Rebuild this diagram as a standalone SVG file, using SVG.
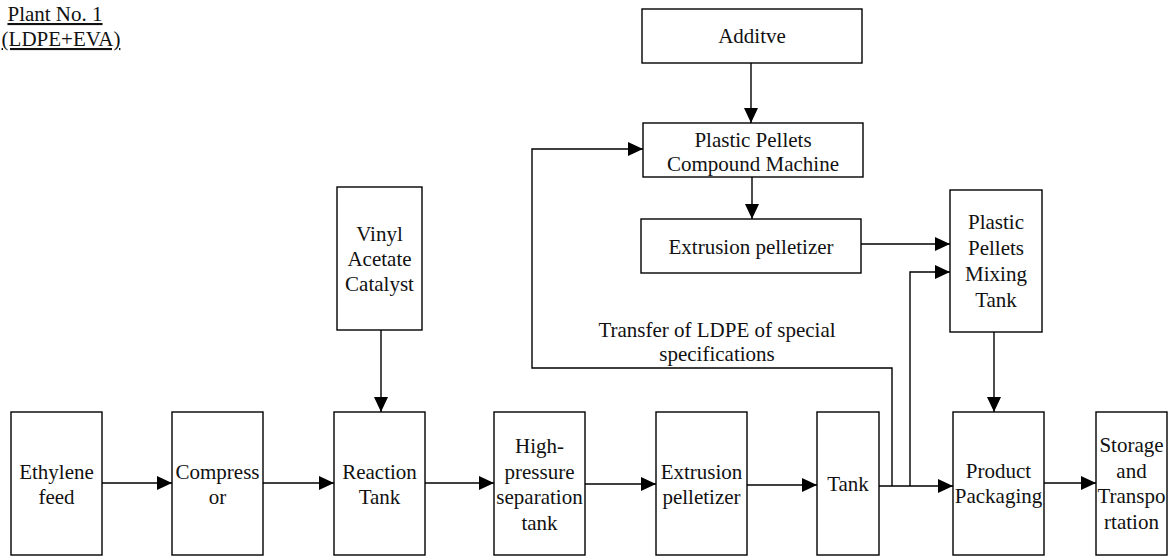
<svg xmlns="http://www.w3.org/2000/svg" width="1173" height="556" viewBox="0 0 1173 556">
<style>
.box{fill:#fff;stroke:#000;stroke-width:1.4}
.t{font-family:'Liberation Serif',Tinos,'Times New Roman','DejaVu Serif',serif;font-size:21px;fill:#111;text-anchor:middle}
.u{text-decoration:underline}
.c{fill:none;stroke:#000;stroke-width:1.4}
</style>
<defs>
<marker id="ah" markerUnits="userSpaceOnUse" markerWidth="15" markerHeight="14" refX="15" refY="7" orient="auto">
<path d="M0,0 L15,7 L0,14 Z" fill="#000"/>
</marker>
</defs>
<rect width="1173" height="556" fill="#fff"/>
<g id="title" font-family="Liberation Serif, Times New Roman, serif">
<text class="t u" x="55" y="21">Plant No. 1</text>
<text class="t u" x="61" y="46">(LDPE+EVA)</text>
</g>
<g id="connectors">
<line class="c" x1="102" y1="483" x2="172" y2="483" marker-end="url(#ah)"/>
<line class="c" x1="263" y1="483" x2="334" y2="483" marker-end="url(#ah)"/>
<line class="c" x1="425" y1="483" x2="494" y2="483" marker-end="url(#ah)"/>
<line class="c" x1="585" y1="484" x2="656" y2="484" marker-end="url(#ah)"/>
<line class="c" x1="747" y1="485" x2="817" y2="485" marker-end="url(#ah)"/>
<line class="c" x1="879" y1="486" x2="953" y2="486" marker-end="url(#ah)"/>
<line class="c" x1="1044" y1="483" x2="1096" y2="483" marker-end="url(#ah)"/>
<line class="c" x1="381" y1="330" x2="381" y2="412" marker-end="url(#ah)"/>
<line class="c" x1="751" y1="63" x2="751" y2="123" marker-end="url(#ah)"/>
<line class="c" x1="752" y1="177" x2="752" y2="219" marker-end="url(#ah)"/>
<line class="c" x1="861" y1="244" x2="950" y2="244" marker-end="url(#ah)"/>
<polyline class="c" points="892,486 892,368 532,368 532,149 643,149" marker-end="url(#ah)"/>
<polyline class="c" points="910,486 910,272 950,272" marker-end="url(#ah)"/>
<line class="c" x1="994" y1="332" x2="994" y2="412" marker-end="url(#ah)"/>
<text class="t" x="717" y="337">Transfer of LDPE of special</text>
<text class="t" x="717" y="361">specifications</text>
</g>
<g id="ethylene">
<rect class="box" x="11" y="412" width="91" height="143"/>
<text class="t" x="56.5" y="479">Ethylene</text>
<text class="t" x="56.5" y="504">feed</text>
</g>
<g id="compressor">
<rect class="box" x="172" y="412" width="91" height="143"/>
<text class="t" x="217.5" y="479">Compress</text>
<text class="t" x="217.5" y="504">or</text>
</g>
<g id="reaction">
<rect class="box" x="334" y="412" width="91" height="143"/>
<text class="t" x="379.5" y="479">Reaction</text>
<text class="t" x="379.5" y="504">Tank</text>
</g>
<g id="hpsep">
<rect class="box" x="494" y="412" width="91" height="143"/>
<text class="t" x="539.5" y="453">High-</text>
<text class="t" x="539.5" y="479">pressure</text>
<text class="t" x="539.5" y="504">separation</text>
<text class="t" x="539.5" y="530">tank</text>
</g>
<g id="extrusion1">
<rect class="box" x="656" y="412" width="91" height="143"/>
<text class="t" x="701.5" y="479">Extrusion</text>
<text class="t" x="701.5" y="504">pelletizer</text>
</g>
<g id="tank">
<rect class="box" x="817" y="412" width="62" height="143"/>
<text class="t" x="848" y="491">Tank</text>
</g>
<g id="packaging">
<rect class="box" x="953" y="412" width="91" height="143"/>
<text class="t" x="998.5" y="478">Product</text>
<text class="t" x="998.5" y="503">Packaging</text>
</g>
<g id="storage">
<rect class="box" x="1096" y="412" width="71" height="143"/>
<text class="t" x="1131.5" y="452">Storage</text>
<text class="t" x="1131.5" y="478">and</text>
<text class="t" x="1131.5" y="503">Transpo</text>
<text class="t" x="1131.5" y="529">rtation</text>
</g>
<g id="vinyl">
<rect class="box" x="337" y="187" width="85" height="143"/>
<text class="t" x="379.5" y="241">Vinyl</text>
<text class="t" x="379.5" y="266">Acetate</text>
<text class="t" x="379.5" y="291">Catalyst</text>
</g>
<g id="additive">
<rect class="box" x="642" y="9" width="220" height="54"/>
<text class="t" x="752" y="43">Additve</text>
</g>
<g id="compound">
<rect class="box" x="643" y="123" width="220" height="54"/>
<text class="t" x="753" y="147">Plastic Pellets</text>
<text class="t" x="753" y="171">Compound Machine</text>
</g>
<g id="extrusion2">
<rect class="box" x="641" y="219" width="220" height="54"/>
<text class="t" x="751" y="254">Extrusion pelletizer</text>
</g>
<g id="mixing">
<rect class="box" x="950" y="190" width="92" height="142"/>
<text class="t" x="996" y="229">Plastic</text>
<text class="t" x="996" y="255">Pellets</text>
<text class="t" x="996" y="281">Mixing</text>
<text class="t" x="996" y="307">Tank</text>
</g>
</svg>
